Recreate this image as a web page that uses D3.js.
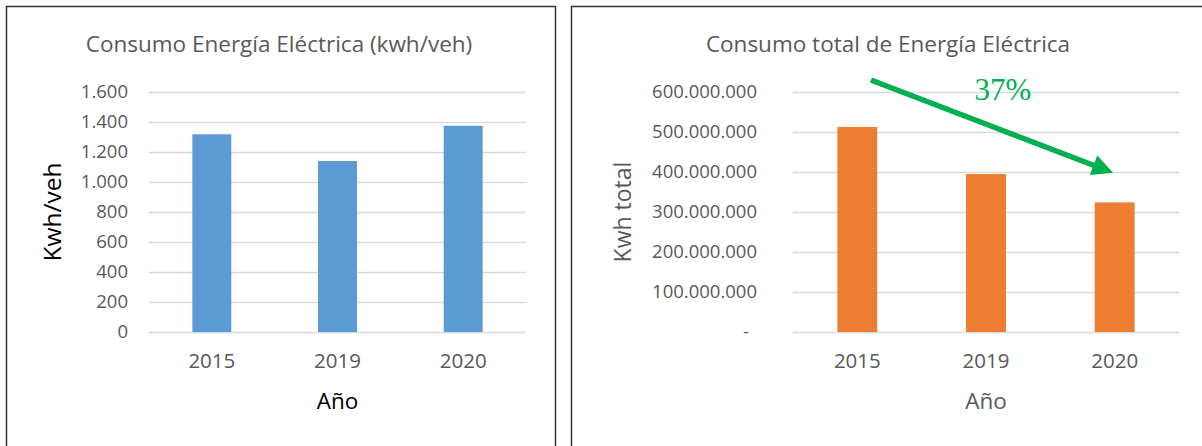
<!DOCTYPE html>
<html><head><meta charset="utf-8">
<script src="https://cdn.jsdelivr.net/npm/d3@7"></script>
<style>
html,body{margin:0;padding:0;background:#fff;}
svg{display:block;font-family:"Open Sans",sans-serif;}
</style></head>
<body>
<svg id="c" width="1202" height="446"></svg>
<script>
// ---------- data ----------
const years = ["2015", "2019", "2020"];
const kwhPerVeh = [1318, 1140, 1375];
const kwhTotal = [512500000, 395000000, 324000000];
const leftTicks = [0, 200, 400, 600, 800, 1000, 1200, 1400, 1600];
const rightTicks = [0, 100000000, 200000000, 300000000, 400000000, 500000000, 600000000];
const leftTitle = "Consumo Energía Eléctrica (kwh/veh)";
const rightTitle = "Consumo total de Energía Eléctrica";
const leftYTitle = "Kwh/veh";
const rightYTitle = "Kwh total";
const xTitle = "Año";
const changeLabel = "37%";
// arrow annotation in data terms: [year, value, offset from band centre in steps]
const arrowFrom = ["2015", 630000000, 0.106];
const arrowTo = ["2020", 398000000, -0.012];

const svg = d3.select("#c");
const fmt = v => v === 0 ? "0" : d3.format(",")(v).replace(/,/g, ".");
const fmtR = v => v === 0 ? "-" : d3.format(",")(v).replace(/,/g, ".");

// frames
svg.append("path").attr("d", "M6.5,446 V6.5 H555.5 V446").attr("fill", "none").attr("stroke", "#333").attr("stroke-width", 1.5);
svg.append("path").attr("d", "M571.5,446 V6.5 H1202").attr("fill", "none").attr("stroke", "#333").attr("stroke-width", 1.5);

function panel(cfg) {
  const g = svg.append("g");
  const x = d3.scaleBand().domain(years).range([cfg.x0, cfg.x1]).paddingInner(0.69).paddingOuter(0.345);
  const y = d3.scaleLinear().domain([0, cfg.max]).range([332, 92]);
  // grid
  g.append("g").attr("transform", `translate(${cfg.x0},0)`)
    .call(d3.axisLeft(y).tickValues(cfg.ticks).tickSize(-(cfg.x1 - cfg.x0)).tickFormat(""))
    .call(a => a.select(".domain").remove())
    .call(a => a.selectAll("line").attr("stroke", "#d9d9d9").attr("stroke-width", 1.6));
  // y tick labels
  g.append("g").attr("transform", `translate(${cfg.x0},0)`)
    .call(d3.axisLeft(y).tickValues(cfg.ticks).tickSize(0).tickPadding(cfg.pad).tickFormat(cfg.fmt))
    .call(a => a.select(".domain").remove())
    .call(a => a.selectAll("text").attr("fill", "#595959").attr("font-size", cfg.tickFs)
      .attr("font-family", "Open Sans").attr("dx", d => d === 0 && cfg.zeroDx ? cfg.zeroDx : 0));
  // bars
  g.selectAll("rect.bar").data(cfg.values).join("rect").attr("class", "bar")
    .attr("x", (d, i) => x(years[i])).attr("width", x.bandwidth())
    .attr("y", d => y(d)).attr("height", d => y(0) - y(d)).attr("fill", cfg.color);
  // x labels
  g.append("g").attr("transform", "translate(0,332)")
    .call(d3.axisBottom(x).tickSize(0).tickPadding(21))
    .call(a => a.select(".domain").remove())
    .call(a => a.selectAll("text").attr("fill", "#595959").attr("font-size", 20.5).attr("font-family", "Open Sans"));
  // titles
  g.append("text").attr("x", cfg.titleX).attr("y", 52).attr("text-anchor", "middle")
    .attr("fill", "#595959").attr("font-size", 22.5).text(cfg.title);
  g.append("text").attr("transform", `translate(${cfg.yTitleX},212) rotate(-90)`).attr("text-anchor", "middle")
    .attr("fill", cfg.axisTitleColor).attr("font-size", cfg.yTitleFs).text(cfg.yTitle);
  g.append("text").attr("x", (cfg.x0 + cfg.x1) / 2).attr("y", 409).attr("text-anchor", "middle")
    .attr("fill", cfg.axisTitleColor).attr("font-size", 22.5).text(xTitle);
  return {x, y, g};
}

panel({x0: 149, x1: 526, max: 1600, ticks: leftTicks, values: kwhPerVeh, color: "#5b9bd5",
  fmt: fmt, pad: 21, tickFs: 18.5, title: leftTitle, titleX: 279, yTitle: leftYTitle, yTitleX: 61,
  yTitleFs: 24.5, axisTitleColor: "#000"});

const R = panel({x0: 793, x1: 1179, max: 600000000, ticks: rightTicks, values: kwhTotal, color: "#ed7d31",
  fmt: fmtR, pad: 36, tickFs: 18.5, zeroDx: -8, title: rightTitle, titleX: 888, yTitle: rightYTitle, yTitleX: 631,
  yTitleFs: 23, axisTitleColor: "#595959"});

// arrow annotation
const cx = yr => R.x(yr) + R.x.bandwidth() / 2;
const ax0 = cx(arrowFrom[0]) + R.x.step() * arrowFrom[2];
const ay0 = R.y(arrowFrom[1]);
const ax1 = cx(arrowTo[0]) + R.x.step() * arrowTo[2];
const ay1 = R.y(arrowTo[1]);
const ang = Math.atan2(ay1 - ay0, ax1 - ax0);
const headLen = 21, headHalf = 10.5;
const bx = ax1 - headLen * Math.cos(ang), by = ay1 - headLen * Math.sin(ang);
R.g.append("line").attr("x1", ax0).attr("y1", ay0).attr("x2", bx + 2 * Math.cos(ang)).attr("y2", by + 2 * Math.sin(ang))
  .attr("stroke", "#00b050").attr("stroke-width", 5.5);
R.g.append("polygon").attr("fill", "#00b050").attr("points", [
  [ax1, ay1],
  [bx + headHalf * Math.sin(ang), by - headHalf * Math.cos(ang)],
  [bx - headHalf * Math.sin(ang), by + headHalf * Math.cos(ang)]
].map(p => p.join(",")).join(" "));
R.g.append("text").attr("x", 1003).attr("y", 100).attr("text-anchor", "middle")
  .attr("font-family", "Liberation Serif, Times New Roman, serif").attr("font-size", 31)
  .attr("fill", "#00b050").text(changeLabel);
</script>
</body></html>
